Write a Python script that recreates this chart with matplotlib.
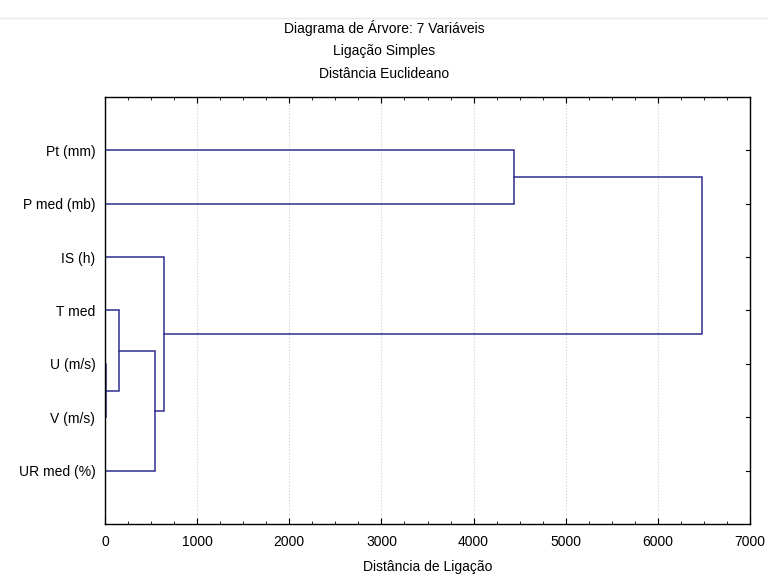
import matplotlib
matplotlib.use('Agg')
import matplotlib.pyplot as plt
from matplotlib.lines import Line2D

plt.rcParams['font.family'] = ['Liberation Sans', 'DejaVu Sans']

# leaves, top to bottom
labels = ['Pt (mm)', 'P med (mb)', 'IS (h)', 'T med', 'U (m/s)', 'V (m/s)', 'UR med (%)']
# merges: (cluster a, cluster b, linkage distance); new clusters numbered 7, 8, ...
merges = [
    (4, 5, 15),
    (3, 7, 150),
    (8, 6, 545),
    (2, 9, 635),
    (0, 1, 4435),
    (11, 10, 6483),
]

col = '#2e2e8f'

fig = plt.figure(figsize=(7.68, 5.79), dpi=100)
ax = fig.add_axes([0.1367, 0.095, 0.8399, 0.7375])

# position and height of every cluster
pos = {i: float(i) for i in range(len(labels))}
hgt = {i: 0.0 for i in range(len(labels))}
for k, (a, b, d) in enumerate(merges):
    ya, yb = pos[a], pos[b]
    ax.plot([hgt[a], d, d, hgt[b]], [ya, ya, yb, yb], color=col, lw=1.1, solid_joinstyle='miter')
    new = len(labels) + k
    pos[new] = (ya + yb) / 2
    hgt[new] = d

ax.set_xlim(0, 7000)
ax.set_ylim(len(labels), -1)
ax.set_xticks(range(0, 7001, 1000))
ax.set_xticks(range(0, 7001, 250), minor=True)
ax.set_yticks(range(len(labels)))
ax.set_yticklabels(labels)
ax.tick_params(axis='both', which='both', direction='in', top=True, right=True, labelsize=10)
ax.tick_params(axis='y', length=0, pad=7)
ax.tick_params(axis='x', which='major', length=4, pad=8)
ax.tick_params(axis='x', which='minor', length=2.5)
ax.xaxis.grid(True, color='#cfcfcf', ls=':', lw=0.8)
for s in ax.spines.values():
    s.set_linewidth(1.0)
ax.set_xlabel('Distância de Ligação', fontsize=10, labelpad=8)

# short right-side ticks at each leaf
for i in range(len(labels)):
    ax.plot([6960, 7000], [i, i], color='black', lw=0.8, clip_on=False)

fig.text(0.5, 1 - 28 / 579, 'Diagrama de Árvore: 7 Variáveis', ha='center', va='center', fontsize=10)
fig.text(0.5, 1 - 51 / 579, 'Ligação Simples', ha='center', va='center', fontsize=10)
fig.text(0.5, 1 - 74 / 579, 'Distância Euclideano', ha='center', va='center', fontsize=10)
fig.add_artist(Line2D([0, 1], [1 - 18 / 579, 1 - 18 / 579], color='#e8e8e8', lw=1))

fig.savefig('out.png', dpi=100)
